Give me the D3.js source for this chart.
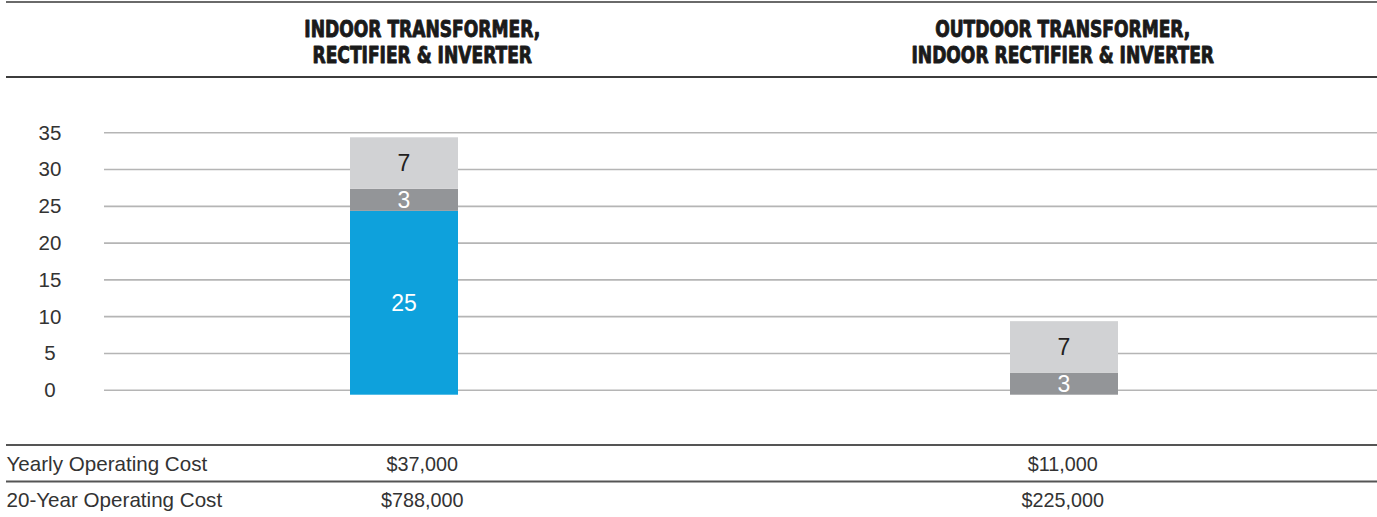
<!DOCTYPE html>
<html>
<head>
<meta charset="utf-8">
<script src="https://cdn.jsdelivr.net/npm/d3@7"></script>
<style>
  html, body { margin: 0; padding: 0; background: #fff; }
  svg { display: block; }
  .head { font-family: "Liberation Sans Narrow", "DejaVu Sans Condensed", "Liberation Sans", sans-serif; font-weight: bold; fill: #1a1a1a; }
  .body { font-family: "Liberation Sans", Arial, sans-serif; fill: #333; }
</style>
</head>
<body>
<svg id="chart" width="1377" height="517"></svg>
<script>
// Column categories and their two-line headers
const categories = ["indoor", "outdoor"];
const headerLines = [
  ["INDOOR TRANSFORMER,", "RECTIFIER & INVERTER"],
  ["OUTDOOR TRANSFORMER,", "INDOOR RECTIFIER & INVERTER"]
];

// Stacked series (bottom to top)
const blueValues = [25, 0];
const midGrayValues = [3, 3];
const lightGrayValues = [7, 7];

// Y axis ticks
const yTicks = [0, 5, 10, 15, 20, 25, 30, 35];

// Table rows beneath the chart
const rowLabels = ["Yearly Operating Cost", "20-Year Operating Cost"];
const yearlyCost = ["$37,000", "$11,000"];
const twentyYearCost = ["$788,000", "$225,000"];

const W = 1377, H = 517;
const svg = d3.select("#chart");

const seriesKeys = ["blue", "mid", "light"];
const colors = { blue: "#0ea1dc", mid: "#939598", light: "#d1d2d4" };
const labelColors = { blue: "#ffffff", mid: "#ffffff", light: "#231f20" };

const rows = categories.map((c, i) => ({
  cat: c,
  blue: blueValues[i],
  mid: midGrayValues[i],
  light: lightGrayValues[i]
}));

// Scales
const y = d3.scaleLinear().domain([0, 35]).range([389.7, 132.3]);
const plotShift = 5; // bars sit slightly below the zero grid line
const yBar = d3.scaleLinear().domain([0, 35]).range([y(0) + plotShift, y(35) + plotShift]);
const xBar = d3.scalePoint().domain(categories).range([74, 1394]).padding(0.5);
const xText = d3.scalePoint().domain(categories).range([102, 1383]).padding(0.5);
const barWidth = 108;

// Rules at top and under the header
const rule = (y0, color) => svg.append("line")
  .attr("x1", 6).attr("x2", W).attr("y1", y0).attr("y2", y0)
  .attr("stroke", color).attr("stroke-width", 2);
rule(2, "#6a6a6a");
rule(77, "#3c3c3c");

// Headers: heavy, condensed capitals
categories.forEach((c, i) => {
  headerLines[i].forEach((line, j) => {
    svg.append("g")
      .attr("transform", `translate(${xText(c)},${37 + j * 26}) scale(0.845,1.02)`)
      .append("text").attr("class", "head")
      .attr("text-anchor", "middle")
      .attr("font-size", 22.5)
      .attr("stroke", "#1a1a1a").attr("stroke-width", 0.9)
      .attr("stroke-linejoin", "round")
      .text(line);
  });
});

// Grid lines
const axis = d3.axisLeft(y).tickValues(yTicks).tickSize(-(W - 104)).tickFormat("");
const gAxis = svg.append("g").attr("transform", "translate(104,0)").call(axis);
gAxis.select(".domain").remove();
gAxis.selectAll(".tick line").attr("stroke", "#b5b5b5").attr("stroke-width", 1.6);

// Y tick labels, centred in the left gutter
svg.append("g").selectAll("text").data(yTicks).join("text")
  .attr("class", "body")
  .attr("x", 50).attr("y", d => y(d))
  .attr("dy", "0.36em")
  .attr("text-anchor", "middle")
  .attr("font-size", 20.5)
  .text(d => d);

// Stacked bars
const stacked = d3.stack().keys(seriesKeys)(rows);
const layers = svg.append("g").selectAll("g").data(stacked).join("g")
  .attr("fill", d => colors[d.key]);

layers.selectAll("rect").data(d => d.map(s => ({ s, key: d.key })))
  .join("rect")
  .filter(d => d.s[1] - d.s[0] > 0)
  .attr("x", d => xBar(d.s.data.cat) - barWidth / 2)
  .attr("width", barWidth)
  .attr("y", d => yBar(d.s[1]))
  .attr("height", d => yBar(d.s[0]) - yBar(d.s[1]));

// Segment value labels
layers.selectAll("text").data(d => d.map(s => ({ s, key: d.key })).filter(d => d.s[1] - d.s[0] > 0))
  .join("text")
  .attr("class", "body")
  .attr("x", d => xBar(d.s.data.cat))
  .attr("y", d => (yBar(d.s[0]) + yBar(d.s[1])) / 2)
  .attr("dy", "0.36em")
  .attr("text-anchor", "middle")
  .attr("font-size", 23)
  .style("fill", d => labelColors[d.key])
  .text(d => d.s[1] - d.s[0]);

// Table
rule(445, "#555555");
rule(481.5, "#555555");

const tableRows = [yearlyCost, twentyYearCost];
rowLabels.forEach((lab, r) => {
  const by = 470.5 + r * 36;
  svg.append("text").attr("class", "body")
    .attr("x", 6.5).attr("y", by)
    .attr("font-size", 20.6)
    .text(lab);
  categories.forEach((c, i) => {
    svg.append("text").attr("class", "body")
      .attr("x", xText(c)).attr("y", by)
      .attr("text-anchor", "middle")
      .attr("font-size", 19.8)
      .text(tableRows[r][i]);
  });
});
</script>
</body>
</html>
